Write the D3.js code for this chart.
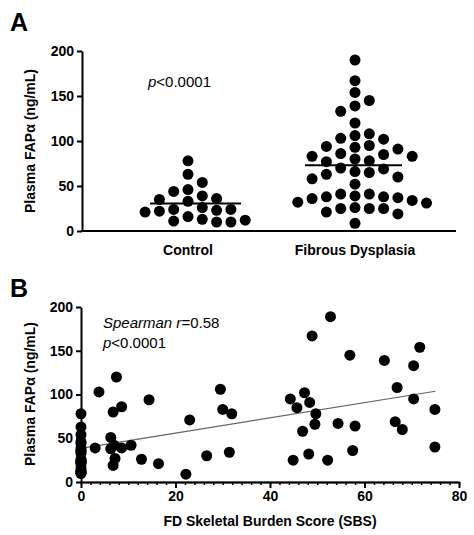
<!DOCTYPE html>
<html><head><meta charset="utf-8">
<script src="https://cdn.jsdelivr.net/npm/d3@7"></script>
<style>body{margin:0;background:#fff}text{font-family:"Liberation Sans",Arial,sans-serif}</style>
</head><body>
<script>
const w = 474, h = 535;
// panel A data
const groups = ["Control", "Fibrous Dysplasia"];
const controlVals = [78,63,54,44,46,39,33,36,35,22,24,21,24,26,23,16,10,11,13,10,12];
const fdVals = [190,167,154,145,139,133,120,103,102,108,106,93,91,95,94,83,83,86,85,78,77,80,
  69,66,65,70,58,63,60,52,38,41,36,37,39,38,41,34,31,32,26,25,25,25,21,19,8.5];
const yTicks = [0,50,100,150,200];
// panel B data (SBS, FAPa) - controls sit at SBS 0
const sbs = [3.0,3.8,6.3,6.3,6.8,6.8,7.0,7.2,7.5,8.6,8.6,10.6,12.8,14.4,16.4,22.2,23.0,26.6,29.5,30.0,31.4,31.9,
  44.3,44.9,45.7,47.3,46.9,48.4,48.2,48.9,49.7,49.5,52.2,52.8,54.4,56.9,58.0,57.5,64.2,66.5,66.9,68.0,70.4,70.4,71.7,74.9,74.9];
const fap = [39,103,51,38,80,19,42,27,120,86,39,42,26,94,21,9,71,30,106,83,34,78,
  95,25,85,102,58,91,32,167,78,66,25,189,67,145,64,36,139,69,108,60,133,95,154,83,40];
const xTicksB = [0,20,40,60,80];
const trendIntercept = 38.5, trendSlope = 0.87;

let svg = d3.select("body").append("svg").attr("width", w).attr("height", h);

// ---- panel A
svg.append("text").attr("x", 10).attr("y", 31).text("A").attr("font-size", 25).attr("font-weight", "bold");
let yA = d3.scaleLinear().domain([0, 200]).range([231, 51]);
let xA = d3.scalePoint().domain(groups).range([188, 355]);
let gA = svg.append("g");
gA.append("g").attr("transform", "translate(82,0)")
  .call(d3.axisLeft(yA).tickValues(yTicks).tickSize(5).tickSizeOuter(0))
  .call(g => g.selectAll("text").attr("font-size", 14).attr("font-weight", "bold").attr("fill", "#000"))
  .call(g => g.selectAll("path,line").attr("stroke", "#000").attr("stroke-width", 2));
gA.append("line").attr("x1", 81).attr("x2", 456).attr("y1", 231).attr("y2", 231).attr("stroke", "#000").attr("stroke-width", 2);
groups.forEach(g => gA.append("text").attr("x", xA(g)).attr("y", 255).attr("text-anchor", "middle")
  .attr("font-size", 14).attr("font-weight", "bold").text(g));

// simple swarm layout
function swarm(vals, cx) {
  const r = 5.5, step = 14.3, placed = [];
  const order = vals.map((v, i) => i).sort((a, b) => vals[b] - vals[a]);
  order.forEach(i => {
    const y = yA(vals[i]);
    for (let k = 0; k < 40; k++) {
      const off = (k % 2 ? 1 : -1) * Math.ceil(k / 2) * step;
      const x = cx + off;
      if (placed.every(p => Math.hypot(p.x - x, p.y - y) >= 2 * r + 0.5)) { placed.push({x, y}); break; }
    }
  });
  return placed;
}
[controlVals, fdVals].forEach((vals, gi) => {
  const cx = xA(groups[gi]);
  gA.selectAll(null).data(swarm(vals, cx)).enter().append("circle")
    .attr("cx", d => d.x).attr("cy", d => d.y).attr("r", 5.5).attr("fill", "#000");
  const m = d3.mean(vals);
  gA.append("line").attr("x1", cx - (gi ? 50 : 38)).attr("x2", cx + (gi ? 47 : 53))
    .attr("y1", yA(m)).attr("y2", yA(m)).attr("stroke", "#000").attr("stroke-width", 2);
});
let pA = gA.append("text").attr("x", 148).attr("y", 87).attr("font-size", 15);
pA.append("tspan").attr("font-style", "italic").text("p");
pA.append("tspan").text("<0.0001");
svg.append("text").attr("x", 35).attr("y", 141).attr("transform", "rotate(-90,35,141)")
  .attr("text-anchor", "middle").attr("font-size", 14).attr("font-weight", "bold").text("Plasma FAPα (ng/mL)");

// ---- panel B
svg.append("text").attr("x", 10).attr("y", 297).text("B").attr("font-size", 25).attr("font-weight", "bold");
let xB = d3.scaleLinear().domain([0, 80]).range([81, 459]);
let yB = d3.scaleLinear().domain([0, 200]).range([482, 307]);
let gB = svg.append("g");
gB.append("g").attr("transform", "translate(81,0)")
  .call(d3.axisLeft(yB).tickValues(yTicks).tickSize(5).tickSizeOuter(0))
  .call(g => g.selectAll("text").attr("font-size", 14).attr("font-weight", "bold").attr("fill", "#000"))
  .call(g => g.selectAll("path,line").attr("stroke", "#000").attr("stroke-width", 2));
gB.append("g").attr("transform", "translate(0,482)")
  .call(d3.axisBottom(xB).tickValues(d3.range(0, 81, 2)).tickSize(3).tickSizeOuter(0).tickFormat(""))
  .call(g => g.selectAll("path,line").attr("stroke", "#000").attr("stroke-width", 1.5));
gB.append("g").attr("transform", "translate(0,482)")
  .call(d3.axisBottom(xB).tickValues(xTicksB).tickSize(6).tickSizeOuter(0))
  .call(g => g.selectAll("text").attr("font-size", 14).attr("font-weight", "bold").attr("fill", "#000"))
  .call(g => g.selectAll("path,line").attr("stroke", "#000").attr("stroke-width", 2));
gB.append("line").attr("x1", xB(0)).attr("x2", xB(75))
  .attr("y1", yB(trendIntercept)).attr("y2", yB(trendIntercept + trendSlope * 75))
  .attr("stroke", "#666").attr("stroke-width", 1.2);
gB.selectAll(null).data(controlVals).enter().append("circle")
  .attr("cx", xB(0)).attr("cy", d => yB(d)).attr("r", 5.5).attr("fill", "#000");
gB.selectAll(null).data(sbs).enter().append("circle")
  .attr("cx", d => xB(d)).attr("cy", (d, i) => yB(fap[i])).attr("r", 5.5).attr("fill", "#000");
let t1 = gB.append("text").attr("x", 103).attr("y", 328).attr("font-size", 15);
t1.append("tspan").attr("font-style", "italic").text("Spearman r");
t1.append("tspan").text("=0.58");
let t2 = gB.append("text").attr("x", 103).attr("y", 348).attr("font-size", 15);
t2.append("tspan").attr("font-style", "italic").text("p");
t2.append("tspan").text("<0.0001");
svg.append("text").attr("x", 35).attr("y", 394).attr("transform", "rotate(-90,35,394)")
  .attr("text-anchor", "middle").attr("font-size", 14).attr("font-weight", "bold").text("Plasma FAPα (ng/mL)");
svg.append("text").attr("x", 270).attr("y", 526).attr("text-anchor", "middle")
  .attr("font-size", 14).attr("font-weight", "bold").text("FD Skeletal Burden Score (SBS)");
</script>
</body></html>
